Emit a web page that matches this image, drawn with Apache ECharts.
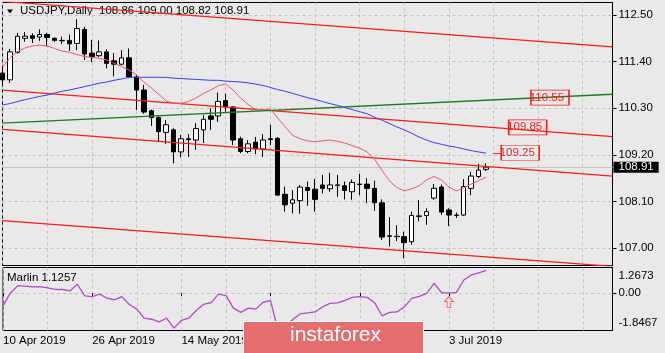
<!DOCTYPE html>
<html>
<head>
<meta charset="utf-8">
<title>USDJPY Daily</title>
<script src="https://cdn.jsdelivr.net/npm/echarts@6/dist/echarts.min.js"></script>
<style>
  html, body { margin: 0; padding: 0; background: #e9e9e9; }
  #chartMain { width: 665px; height: 353px; }
</style>
</head>
<body>
<div id="chartMain"></div>
<script>
'use strict'

/************************ DATA *************************/
var dates = [
  '10 Apr 2019','11 Apr 2019','12 Apr 2019','15 Apr 2019','16 Apr 2019','17 Apr 2019','18 Apr 2019','19 Apr 2019',
  '22 Apr 2019','23 Apr 2019','24 Apr 2019','25 Apr 2019','26 Apr 2019','29 Apr 2019','30 Apr 2019',
  '1 May 2019','2 May 2019','3 May 2019','6 May 2019','7 May 2019','8 May 2019','9 May 2019','10 May 2019',
  '13 May 2019','14 May 2019','15 May 2019','16 May 2019','17 May 2019','20 May 2019','21 May 2019','22 May 2019',
  '23 May 2019','24 May 2019','27 May 2019','28 May 2019','29 May 2019','30 May 2019','31 May 2019',
  '3 Jun 2019','4 Jun 2019','5 Jun 2019','6 Jun 2019','7 Jun 2019','10 Jun 2019','11 Jun 2019','12 Jun 2019',
  '13 Jun 2019','14 Jun 2019','17 Jun 2019','18 Jun 2019','19 Jun 2019','20 Jun 2019','21 Jun 2019',
  '24 Jun 2019','25 Jun 2019','26 Jun 2019','27 Jun 2019','28 Jun 2019',
  '1 Jul 2019','2 Jul 2019','3 Jul 2019','4 Jul 2019','5 Jul 2019','8 Jul 2019','9 Jul 2019','10 Jul 2019'
];
var futureBars = 17;   // empty space right of the last candle

var opens = [111.13,110.97,111.62,111.95,112.01,111.98,112.04,111.95,111.90,111.90,111.83,112.16,111.60,111.54,111.63,
  111.42,111.34,111.49,111.04,110.73,110.24,110.08,109.73,109.79,109.27,109.58,109.55,109.79,110.12,110.12,110.48,
  110.33,109.58,109.28,109.50,109.34,109.58,109.59,108.27,108.06,108.12,108.43,108.39,108.49,108.40,108.49,108.47,
  108.33,108.51,108.51,108.41,108.07,107.29,107.28,107.27,107.15,107.76,107.77,108.18,108.44,107.90,107.78,107.78,
  108.41,108.69,108.86];
var closes = [110.97,111.63,112.00,112.00,111.95,112.04,111.97,111.90,111.89,111.82,112.18,111.58,111.52,111.63,111.36,
  111.34,111.49,111.04,110.73,110.21,110.08,109.75,109.91,109.27,109.58,109.56,109.82,110.04,110.04,110.46,110.34,
  109.55,109.28,109.46,109.34,109.55,109.56,108.25,108.02,108.14,108.44,108.36,108.15,108.41,108.49,108.48,108.36,
  108.55,108.50,108.41,108.07,107.26,107.28,107.27,107.13,107.77,107.75,107.86,108.41,107.85,107.78,107.77,108.45,
  108.70,108.84,108.91];
var lows = [110.85,110.90,111.59,111.87,111.84,111.89,111.76,111.86,111.82,111.65,111.67,111.44,111.39,111.51,111.24,
  111.05,111.32,111.01,110.26,110.17,109.88,109.50,109.46,109.00,109.14,109.15,109.32,109.48,109.79,109.98,110.22,
  109.43,109.24,109.24,109.22,109.15,109.43,108.24,107.86,107.82,107.81,108.00,107.86,108.29,108.33,108.21,108.15,
  108.14,108.25,108.06,107.88,107.19,107.04,107.17,106.76,107.08,107.63,107.55,108.14,107.78,107.52,107.71,107.76,
  108.25,108.65,108.82];
var highs = [111.25,111.70,112.08,112.10,112.07,112.16,112.08,111.97,111.99,112.04,112.40,112.22,111.91,111.90,111.69,
  111.60,111.67,111.71,111.08,110.85,110.27,110.14,110.02,109.83,109.67,109.69,109.95,110.14,110.30,110.67,110.64,
  110.35,109.63,109.55,109.62,109.69,109.91,109.62,108.45,108.37,108.49,108.57,108.63,108.73,108.78,108.73,108.57,
  108.62,108.75,108.65,108.59,108.15,107.73,107.54,107.39,107.86,108.13,107.94,108.51,108.50,107.94,107.84,108.63,
  108.80,108.99,109.00];

var fastMA = [111.27,111.49,111.64,111.72,111.77,111.79,111.77,111.71,111.65,111.62,111.57,111.52,111.50,111.48,111.44,
  111.36,111.29,111.20,111.09,110.92,110.78,110.63,110.47,110.42,110.42,110.46,110.54,110.65,110.73,110.83,110.87,
  110.73,110.54,110.39,110.27,110.26,110.29,110.07,109.86,109.66,109.58,109.53,109.51,109.53,109.55,109.52,109.48,
  109.42,109.36,109.27,109.10,108.84,108.59,108.43,108.35,108.40,108.47,108.61,108.69,108.61,108.44,108.35,108.42,
  108.51,108.59,108.67];
var slowMA = [110.38,110.41,110.46,110.50,110.54,110.58,110.61,110.66,110.70,110.73,110.77,110.81,110.85,110.89,110.92,
  110.96,110.99,111.03,111.03,111.03,111.03,111.03,111.03,111.01,111.00,110.99,110.98,110.97,110.96,110.96,110.94,
  110.93,110.92,110.90,110.87,110.84,110.79,110.74,110.70,110.65,110.60,110.55,110.51,110.46,110.41,110.37,110.32,
  110.27,110.22,110.17,110.09,110.02,109.94,109.86,109.79,109.71,109.62,109.55,109.49,109.45,109.41,109.38,109.34,
  109.30,109.27,109.24];
var marlin = [-0.63,0.01,0.37,0.35,0.31,0.32,0.26,0.19,0.18,0.11,0.44,-0.14,-0.17,-0.05,-0.25,-0.33,-0.17,-0.56,
  -0.79,-1.24,-1.29,-1.42,-1.24,-1.73,-1.35,-1.24,-0.86,-0.55,-0.47,-0.05,-0.12,-0.74,-0.95,-0.74,-0.79,-0.45,-0.37,
  -1.85,-1.60,-1.30,-1.02,-0.98,-0.93,-0.68,-0.51,-0.48,-0.36,-0.21,-0.17,-0.21,-0.48,-1.12,-0.95,-0.93,-0.68,-0.26,
  -0.16,-0.01,0.48,0.03,0.00,0.04,0.65,0.90,1.00,1.1257];

// trend lines: price at the left edge and at the right edge of the chart
var channelStart = [112.82, 110.73, 109.80, 107.65];
var channelEnd   = [111.75, 109.63, 108.70, 106.57];
var greenStart = 109.95, greenEnd = 110.63;

// price labels drawn on the chart (bar index, price)
var levelBars   = [74, 71, 70];
var levelPrices = [110.55, 109.85, 109.25];

var signalArrow = [[60, -0.44]];

var priceTicks  = [107.00, 108.10, 109.20, 110.30, 111.40, 112.50];
var marlinTicks = [-1.8467, 0, 1.2673];
var bidPrice = 108.91;
var titleText = 'USDJPY,Daily  108.86 109.00 108.82 108.91';
var marlinTitle = 'Marlin 1.1257';

/************************ CHART *************************/
var FONT = '"Liberation Sans", Arial, sans-serif';

var categories = dates.slice();
for (var f = 0; f < futureBars; f++) categories.push('');
var lastIdx = categories.length - 1;

var candles = opens.map(function(o, i) { return [o, closes[i], lows[i], highs[i]]; });

var dashed = { show: true, lineStyle: { color: '#c2c2c2', type: [3, 3], width: 1 } };
var everySix = function(i) { return i % 6 === 0; };
var everyTwelve = function(i) { return i % 12 === 0 && categories[i] !== ''; };

var lineSeries = function(name, data, color, width) {
  return {
    name: name, type: 'line', xAxisIndex: 0, yAxisIndex: 0,
    data: data, symbol: 'none', silent: true,
    lineStyle: { color: color, width: width }
  };
};

var series = [];

channelStart.forEach(function(p, k) {
  series.push(lineSeries('channel' + k, [[0, p], [lastIdx, channelEnd[k]]], '#ff1a1a', 1.3));
});
series.push(lineSeries('green', [[0, greenStart], [lastIdx, greenEnd]], '#1e7b1e', 1.3));
series.push(lineSeries('slowMA', slowMA, '#3b3bff', 1));
series.push(lineSeries('fastMA', fastMA, '#e85a6c', 1));

// connector for the 109.25 label
series[2].markLine = {
  silent: true, symbol: ['none', 'none'], label: { show: false },
  lineStyle: { color: '#ff1a1a', type: 'solid', width: 1 },
  data: [[{ coord: [levelBars[2] - 4, levelPrices[2]] }, { coord: [levelBars[2] - 3, levelPrices[2]] }]]
};

series.push({
  name: 'USDJPY', type: 'candlestick', xAxisIndex: 0, yAxisIndex: 0,
  data: candles, barWidth: 5,
  itemStyle: { color: '#ffffff', color0: '#000000', borderColor: '#000000', borderColor0: '#000000', borderWidth: 1 },
  markLine: {
    silent: true, symbol: ['none', 'none'], z: 1,
    lineStyle: { color: '#c4c4c4', type: 'solid', width: 1 },
    label: {
      show: true, position: 'end', distance: 1, formatter: bidPrice.toFixed(2),
      backgroundColor: '#000', color: '#fff', fontFamily: FONT, fontSize: 11.5,
      padding: [0, 5, 0, 5], lineHeight: 11
    },
    data: [{ yAxis: bidPrice }]
  },
  markPoint: {
    silent: true, symbol: 'rect', symbolSize: [38, 15], symbolOffset: [-3, 0],
    itemStyle: { color: 'rgba(0,0,0,0)', borderColor: '#ff1a1a', borderWidth: 1 },
    label: { show: true, position: 'inside', offset: [-3, 0], color: '#ff1a1a', fontFamily: FONT, fontSize: 11.5 },
    data: levelPrices.map(function(p, k) {
      return { coord: [levelBars[k], p], value: p.toFixed(2) };
    })
  }
});

series.push({
  name: 'Marlin', type: 'line', xAxisIndex: 1, yAxisIndex: 1,
  data: marlin, symbol: 'none', silent: true,
  lineStyle: { color: '#b04cc2', width: 1.3 }
});
series.push({
  name: 'signal', type: 'scatter', xAxisIndex: 1, yAxisIndex: 1,
  data: signalArrow, silent: true,
  symbol: 'path://M5,0 L10,5 L7,5 L7,11 L3,11 L3,5 L0,5 Z', symbolSize: [9, 11],
  itemStyle: { color: 'rgba(255,255,255,0.35)', borderColor: '#ff4040', borderWidth: 1 }
});

var chart = echarts.init(document.getElementById('chartMain'));

var option = {
  animation: false,
  backgroundColor: '#e9e9e9',
  textStyle: { fontFamily: FONT },
  grid: [
    { left: 2.5, right: 52.5, top: 2.5, height: 263, show: true, borderColor: '#000', borderWidth: 1 },
    { left: 2.5, right: 52.5, top: 267.5, height: 63, show: true, borderColor: '#000', borderWidth: 1 }
  ],
  xAxis: [
    {
      type: 'category', gridIndex: 0, data: categories, boundaryGap: false,
      axisLine: { show: false }, axisTick: { show: false }, axisLabel: { show: false },
      splitLine: { show: true, interval: everySix, lineStyle: dashed.lineStyle }
    },
    {
      type: 'category', gridIndex: 1, data: categories, boundaryGap: false,
      axisLine: { show: false },
      axisTick: { show: true, interval: everyTwelve, length: 3, lineStyle: { color: '#000' } },
      axisLabel: { show: true, interval: everyTwelve, align: 'left', margin: 4, color: '#000', fontSize: 11.5 },
      splitLine: { show: true, interval: everySix, lineStyle: dashed.lineStyle }
    }
  ],
  yAxis: [
    {
      type: 'value', gridIndex: 0, position: 'right', min: 106.59, max: 112.795, scale: true,
      axisLine: { show: true, lineStyle: { color: '#000' } },
      axisTick: { show: true, length: 4, customValues: priceTicks, lineStyle: { color: '#000' } },
      axisLabel: {
        customValues: priceTicks, margin: 6, color: '#000', fontSize: 11.5,
        formatter: function(v) { return v.toFixed(2); }
      },
      splitLine: dashed
    },
    {
      type: 'value', gridIndex: 1, position: 'right', min: marlinTicks[0], max: marlinTicks[2],
      axisLine: { show: true, lineStyle: { color: '#000' } },
      axisTick: { show: true, length: 4, customValues: [0], lineStyle: { color: '#000' } },
      axisLabel: {
        customValues: marlinTicks, margin: 6, color: '#000', fontSize: 11.5,
        formatter: function(v) {
          if (v === marlinTicks[2]) return '{t|' + v.toFixed(4) + '}';
          if (v === marlinTicks[0]) return '{b|' + v.toFixed(4) + '}';
          return v.toFixed(2);
        },
        rich: {
          t: { padding: [17, 0, 0, 0], fontSize: 11.5, color: '#000' },
          b: { padding: [0, 0, 15, 0], fontSize: 11.5, color: '#000' }
        }
      },
      splitLine: dashed
    }
  ],
  graphic: [
    { type: 'polygon', shape: { points: [[7, 9.5], [13, 9.5], [10, 13.5]] }, style: { fill: '#000' } },
    { type: 'text', left: 20, top: 5, style: { text: titleText, fill: '#000', font: '11.5px ' + FONT } },
    { type: 'text', left: 7, top: 272, style: { text: marlinTitle, fill: '#000', font: '11.5px ' + FONT } },
    {
      type: 'rect', left: 243, top: 321, z: 100, zlevel: 1,
      shape: { x: 0, y: 0, width: 180, height: 40 },
      style: { fill: '#e46e6e', stroke: '#ffffff', lineWidth: 1 }
    },
    {
      type: 'text', left: 290, top: 325, z: 101, zlevel: 1,
      style: { text: 'instaforex', fill: '#fff', font: '21px ' + FONT }
    }
  ],
  series: series
};

chart.setOption(option);
</script>
</body>
</html>
